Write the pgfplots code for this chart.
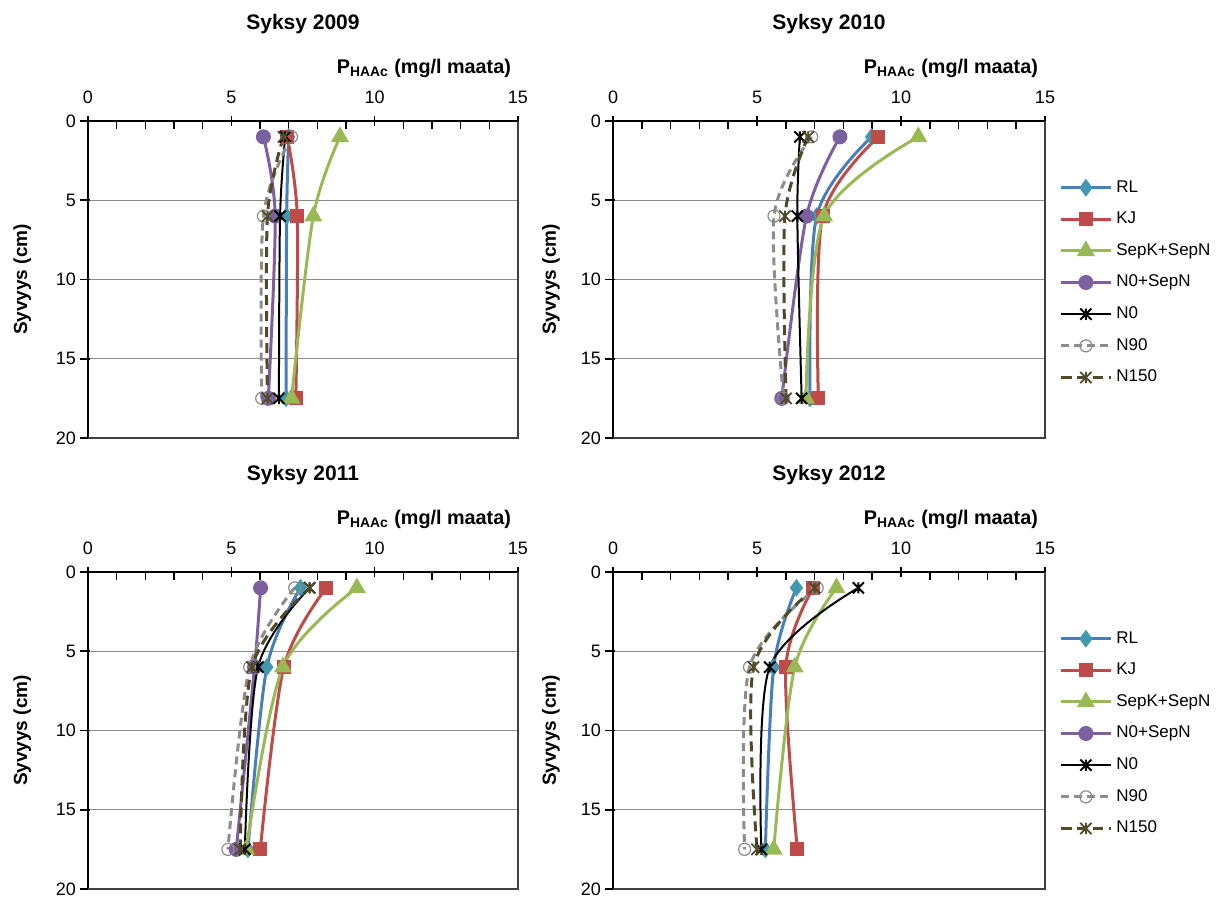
\documentclass[border=0pt]{standalone}
\usepackage{fontspec}
\setmainfont{Liberation Sans}
\usepackage{pgfplots}
\pgfplotsset{compat=1.18}

\definecolor{cRL}{HTML}{4A7EBB}
\definecolor{cRLm}{HTML}{4198AF}
\definecolor{cKJ}{HTML}{BE4B48}
\definecolor{cSep}{HTML}{98B954}
\definecolor{cN0S}{HTML}{7D60A0}
\definecolor{cN90}{HTML}{8C8C8C}
\definecolor{cN150}{HTML}{4F4A28}

% Excel-like star marker: an x with a vertical stroke
\pgfdeclareplotmark{xstar}{%
  \pgfpathmoveto{\pgfqpoint{-\pgfplotmarksize}{-\pgfplotmarksize}}%
  \pgfpathlineto{\pgfqpoint{\pgfplotmarksize}{\pgfplotmarksize}}%
  \pgfpathmoveto{\pgfqpoint{-\pgfplotmarksize}{\pgfplotmarksize}}%
  \pgfpathlineto{\pgfqpoint{\pgfplotmarksize}{-\pgfplotmarksize}}%
  \pgfpathmoveto{\pgfqpoint{0pt}{-\pgfplotmarksize}}%
  \pgfpathlineto{\pgfqpoint{0pt}{\pgfplotmarksize}}%
  \pgfusepathqstroke}

\pgfplotsset{
  panel/.style={
    scale only axis, height=158.5pt,
    xmin=0, xmax=15, ymin=0, ymax=20, y dir=reverse,
    axis x line*=top, axis y line*=left,
    axis line style={line width=1pt, black},
    xtick={0,5,10,15}, minor x tick num=4,
    ytick={0,5,10,15,20},
    tick align=center, major tick length=5pt, minor tick length=4pt,
    minor tick style={yshift=-2pt, line width=0.8pt},
    y tick style={xshift=-1.5pt},
    tick style={black, line width=0.8pt},
    ymajorgrids, major grid style={color=cN90, line width=0.6pt},
    ticklabel style={font=\fontsize{9}{10}\selectfont},
    xticklabel style={yshift=2.5pt},
    /pgf/number format/assume math mode=true,
    title style={anchor=center, at={(0.5,1.268)}, font=\bfseries\fontsize{10.5}{12}\selectfont},
    xlabel={P\textsubscript{HAAc} (mg/l maata)},
    xlabel style={at={(1,1.167)}, anchor=east, font=\bfseries\fontsize{9.9}{11}\selectfont},
    ylabel={Syvyys (cm)},
    ylabel style={anchor=center, font=\bfseries\fontsize{9.5}{11}\selectfont},
    clip=false,
    legend cell align=left,
    legend style={at={(1,0.49)}, anchor=west, xshift=7pt, draw=none, fill=none,
      font=\fontsize{8.5}{10}\selectfont, row sep=4.4pt, inner sep=0pt},
    legend image code/.code={\draw[mark repeat=2,mark phase=2]
      plot coordinates {(0pt,0pt)(12.5pt,0pt)(25pt,0pt)};},
  },
  rl/.style={color=cRL, line width=1.5pt, smooth, mark=diamond*, mark size=3.2pt,
    mark options={fill=cRLm, draw=cRLm}},
  kj/.style={color=cKJ, line width=1.5pt, smooth, mark=square*, mark size=2.8pt},
  sep/.style={color=cSep, line width=1.5pt, smooth, mark=triangle*, mark size=3.7pt},
  n0s/.style={color=cN0S, line width=1.5pt, smooth, mark=*, mark size=3pt},
  n0/.style={black, line width=1pt, smooth, mark=xstar, mark size=2.8pt},
  n90/.style={cN90, line width=1.5pt, dash pattern=on 4pt off 2.5pt, smooth,
    mark=o, mark size=3pt, mark options={solid, fill=white, line width=0.6pt}},
  n150/.style={cN150, line width=1.5pt, dash pattern=on 5pt off 3pt, smooth,
    mark=xstar, mark size=2.8pt, mark options={solid, line width=0.9pt}},
}

\begin{document}
\begin{tikzpicture}
\path (0,0) rectangle (610pt,-448pt);

% Syksy 2009
\begin{axis}[panel, width=215pt, at={(44pt,-60.5pt)}, anchor=north west,
  title={Syksy 2009}, ylabel style={at={(-0.153,0.5)}}]
\addplot[rl] coordinates {(7.00,1) (6.93,6) (6.91,17.5)};
\addplot[kj] coordinates {(6.95,1) (7.30,6) (7.25,17.5)};
\addplot[sep] coordinates {(8.79,1) (7.86,6) (7.10,17.5)};
\addplot[n0s] coordinates {(6.12,1) (6.53,6) (6.29,17.5)};
\addplot[n0] coordinates {(6.88,1) (6.70,6) (6.66,17.5)};
\addplot[n90] coordinates {(7.10,1) (6.12,6) (6.06,17.5)};
\addplot[n150] coordinates {(6.82,1) (6.26,6) (6.26,17.5)};
\draw[line width=0.8pt, black!75] (axis cs:0,20) -- (axis cs:15,20) -- (axis cs:15,0);
\end{axis}

% Syksy 2010
\begin{axis}[panel, width=216pt, at={(306.5pt,-60.5pt)}, anchor=north west,
  title={Syksy 2010}, ylabel style={at={(-0.1435,0.5)}}]
\addplot[rl] coordinates {(8.98,1) (7.07,6) (6.84,17.5)};
\addlegendentry{RL}
\addplot[kj] coordinates {(9.21,1) (7.28,6) (7.13,17.5)};
\addlegendentry{KJ}
\addplot[sep] coordinates {(10.60,1) (7.33,6) (6.70,17.5)};
\addlegendentry{SepK+SepN}
\addplot[n0s] coordinates {(7.88,1) (6.72,6) (5.86,17.5)};
\addlegendentry{N0+SepN}
\addplot[n0] coordinates {(6.49,1) (6.40,6) (6.55,17.5)};
\addlegendentry{N0}
\addplot[n90] coordinates {(6.90,1) (5.59,6) (5.92,17.5)};
\addlegendentry{N90}
\addplot[n150] coordinates {(6.78,1) (5.97,6) (6.01,17.5)};
\addlegendentry{N150}
\draw[line width=0.8pt, black!75] (axis cs:0,20) -- (axis cs:15,20) -- (axis cs:15,0);
\end{axis}

% Syksy 2011
\begin{axis}[panel, width=215pt, at={(44pt,-286pt)}, anchor=north west,
  title={Syksy 2011}, ylabel style={at={(-0.153,0.5)}}]
\addplot[rl] coordinates {(7.41,1) (6.24,6) (5.58,17.5)};
\addplot[kj] coordinates {(8.31,1) (6.83,6) (6.01,17.5)};
\addplot[sep] coordinates {(9.38,1) (6.80,6) (5.52,17.5)};
\addplot[n0s] coordinates {(6.02,1) (5.81,6) (5.17,17.5)};
\addplot[n0] coordinates {(7.73,1) (5.93,6) (5.47,17.5)};
\addplot[n90] coordinates {(7.21,1) (5.64,6) (4.88,17.5)};
\addplot[n150] coordinates {(7.73,1) (5.72,6) (5.31,17.5)};
\draw[line width=0.8pt, black!75] (axis cs:0,20) -- (axis cs:15,20) -- (axis cs:15,0);
\end{axis}

% Syksy 2012
\begin{axis}[panel, width=216pt, at={(306.5pt,-286pt)}, anchor=north west,
  title={Syksy 2012}, ylabel style={at={(-0.1435,0.5)}}]
\addplot[rl] coordinates {(6.37,1) (5.58,6) (5.29,17.5)};
\addlegendentry{RL}
\addplot[kj] coordinates {(6.95,1) (6.00,6) (6.40,17.5)};
\addlegendentry{KJ}
\addplot[sep] coordinates {(7.76,1) (6.31,6) (5.58,17.5)};
\addlegendentry{SepK+SepN}
\addlegendimage{n0s}
\addlegendentry{N0+SepN}
\addplot[n0] coordinates {(8.52,1) (5.44,6) (5.15,17.5)};
\addlegendentry{N0}
\addplot[n90] coordinates {(7.09,1) (4.74,6) (4.57,17.5)};
\addlegendentry{N90}
\addplot[n150] coordinates {(7.00,1) (4.88,6) (5.00,17.5)};
\addlegendentry{N150}
\draw[line width=0.8pt, black!75] (axis cs:0,20) -- (axis cs:15,20) -- (axis cs:15,0);
\end{axis}
\end{tikzpicture}
\end{document}
